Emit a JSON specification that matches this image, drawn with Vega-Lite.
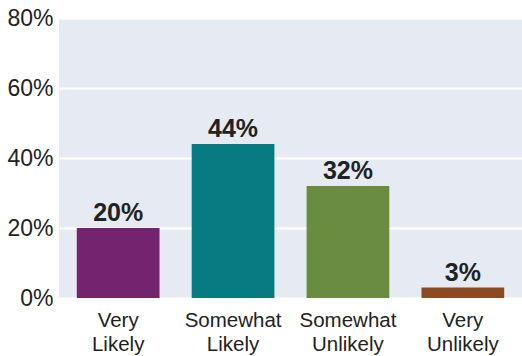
{
  "$schema": "https://vega.github.io/schema/vega-lite/v6.json",
  "autosize": {"type": "none"},
  "width": 463,
  "height": 280,
  "padding": {"left": 59, "top": 18, "right": 0, "bottom": 58},
  "background": "white",
  "config": {
    "font": "Liberation Sans",
    "view": {"fill": "#e6eaf2", "stroke": null},
    "axis": {"labelFont": "Liberation Sans", "labelColor": "#222222"}
  },
  "data": {
    "values": [
      {"category": "Very Likely", "value": 20, "label": "20%"},
      {"category": "Somewhat Likely", "value": 44, "label": "44%"},
      {"category": "Somewhat Unlikely", "value": 32, "label": "32%"},
      {"category": "Very Unlikely", "value": 3, "label": "3%"}
    ]
  },
  "encoding": {
    "x": {
      "field": "category",
      "type": "nominal",
      "sort": null,
      "scale": {"paddingInner": 0.28, "paddingOuter": 0.155},
      "axis": {
        "title": null,
        "domain": false,
        "ticks": false,
        "labelAngle": 0,
        "labelFontSize": 20.5,
        "labelLineHeight": 24,
        "labelBaseline": "top",
        "labelPadding": 12,
        "labelExpr": "split(datum.label, ' ')"
      }
    },
    "y": {
      "field": "value",
      "type": "quantitative",
      "scale": {"domain": [0, 80]},
      "axis": {
        "title": null,
        "values": [0, 20, 40, 60, 80],
        "domain": false,
        "ticks": false,
        "labelFontSize": 23,
        "labelPadding": 6,
        "gridColor": "white",
        "gridWidth": 2,
        "gridOpacity": 1,
        "labelExpr": "datum.value + '%'"
      }
    }
  },
  "layer": [
    {
      "mark": {"type": "bar"},
      "encoding": {
        "color": {
          "field": "category",
          "type": "nominal",
          "legend": null,
          "scale": {
            "domain": ["Very Likely", "Somewhat Likely", "Somewhat Unlikely", "Very Unlikely"],
            "range": ["#74246f", "#087a82", "#698c41", "#8d4a1f"]
          }
        }
      }
    },
    {
      "mark": {"type": "text", "baseline": "bottom", "dy": -2, "fontSize": 25, "fontWeight": "bold", "color": "#222222"},
      "encoding": {"text": {"field": "label"}}
    }
  ]
}
